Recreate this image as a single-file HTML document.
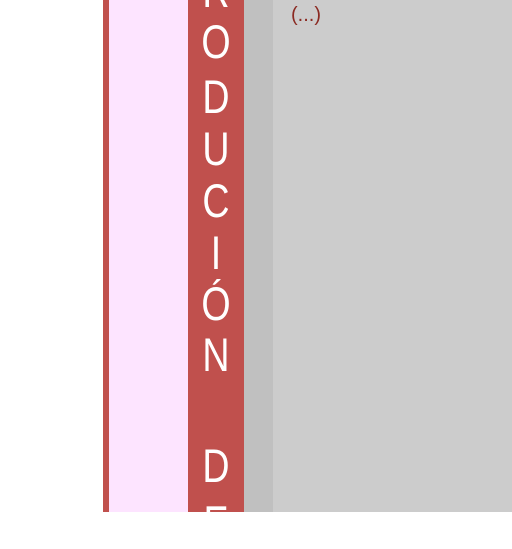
<!DOCTYPE html>
<html><head><meta charset="utf-8"><style>
body{margin:0;width:512px;height:512px;overflow:hidden;position:relative;background:#fff;font-family:"Liberation Sans",sans-serif}
div{position:absolute}
.l{left:188px;width:56px;text-align:center;color:#fff;font-size:47px;line-height:50px;font-weight:normal;transform:scaleX(0.8)}
</style></head><body>
<div style="left:103px;top:0;width:6px;height:512px;background:#c0504d"></div>
<div style="left:109px;top:0;width:79px;height:512px;background:#fde4ff"></div>
<div style="left:188px;top:0;width:56px;height:512px;background:#c0504d"></div>
<div style="left:244px;top:0;width:29px;height:512px;background:#c0c0c0"></div>
<div style="left:273px;top:0;width:239px;height:512px;background:#cccccc"></div>
<div style="left:291px;top:4px;font-size:20px;color:#8b2a22">(...)</div>
<div class="l" style="top:-34px">R</div>
<div class="l" style="top:17px">O</div>
<div class="l" style="top:72px">D</div>
<div class="l" style="top:124px">U</div>
<div class="l" style="top:176px">C</div>
<div class="l" style="top:228px">I</div>
<div class="l" style="top:279px">Ó</div>
<div class="l" style="top:330px">N</div>
<div class="l" style="top:441px">D</div>
<div class="l" style="top:498px">E</div>
</body></html>
